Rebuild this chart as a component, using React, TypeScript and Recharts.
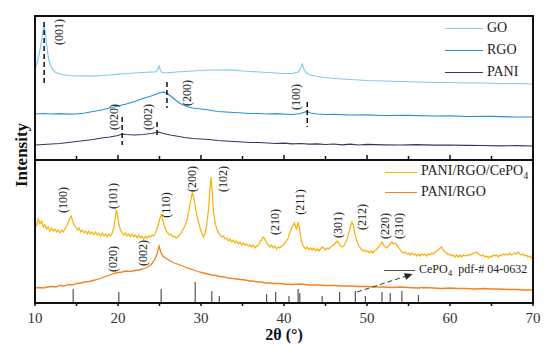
import { LineChart, Line, XAxis, YAxis, ReferenceLine, ReferenceDot } from 'recharts';

// 2θ scans, [angle, intensity (a.u.)]
const goScan: [number, number][] = [
  [10, 92], [10.3, 98], [10.6, 110], [10.85, 122], [11.0, 132], [11.1, 135], [11.25, 127], [11.4, 115],
  [11.6, 103], [11.8, 96], [12.1, 91], [12.4, 88], [12.8, 86.5], [13.3, 85.5], [14, 84.5], [15, 84],
  [16, 84.2], [17, 83.8], [18, 84.5], [19, 85], [20, 85.8], [21, 86.5], [22, 87], [23, 87.5], [24, 88],
  [24.6, 88.2], [24.8, 91], [24.95, 94], [25.1, 90], [25.3, 87.5], [26, 87.2], [27, 88], [28, 88.5],
  [29, 89], [30, 89.5], [31, 90], [32, 90], [33, 90.2], [34, 89.8], [35, 89], [36, 88.5], [37, 88],
  [38, 87.5], [39, 87], [40, 86.5], [41, 86.5], [41.7, 88], [42.0, 92], [42.2, 96], [42.4, 91],
  [42.7, 87], [43.2, 85], [44, 83.5], [45, 82.5], [46, 81.5], [47, 81], [48, 80.5], [49, 80], [50, 79.5],
  [52, 79], [54, 78.5], [56, 78], [58, 77.5], [60, 77.5], [62, 77], [64, 77], [66, 76.5], [68, 76.5], [70, 76],
];

const rgoScan: [number, number][] = [
  [10, 46], [11, 46.5], [12, 46], [13, 46.3], [14, 45.8], [15, 46], [16, 47], [17, 48.5], [18, 50],
  [19, 52], [20, 54], [21, 56], [22, 58.5], [23, 61.5], [24, 64], [24.5, 65.5], [25, 67], [25.5, 68],
  [26, 66], [26.5, 63], [27, 59.5], [27.5, 56.5], [28, 54.5], [28.5, 53], [29, 52], [30, 51], [31, 50],
  [32, 48.5], [33, 48], [34, 47.5], [35, 47], [36, 46.5], [37, 46.5], [38, 46], [39, 46.3], [40, 45.8],
  [41, 45.5], [42, 46.5], [42.5, 47.8], [42.8, 48.5], [43.2, 47], [44, 46], [45, 45.5], [46, 45.7],
  [48, 45], [50, 45.2], [52, 44.5], [55, 44.6], [58, 44], [60, 44.2], [62, 43.5], [65, 43.6], [68, 43], [70, 43],
];

const paniScan: [number, number][] = [
  [10, 15], [11, 15.5], [12, 16], [13, 16.5], [14, 17.5], [15, 18.5], [16, 19.5], [17, 20.5], [18, 22],
  [19, 23], [20, 24.5], [20.5, 26], [21, 25.5], [22, 25], [23, 25.5], [24, 26.5], [24.9, 28], [25.5, 26.5],
  [26.3, 25], [27, 24], [28, 22.5], [29, 21.5], [30, 21], [31, 20.5], [32, 19.5], [33, 19], [34, 18.5],
  [35, 18], [36, 17.5], [37, 17.5], [38, 17], [39, 16.5], [40, 16.8], [41, 16.2], [42, 16.5], [43, 15.8],
  [44, 16.2], [45, 15.5], [46, 16], [47, 15.2], [48, 15.8], [49, 15], [50, 15.6], [52, 15.2], [54, 15],
  [56, 15.3], [58, 14.8], [60, 15], [62, 14.6], [64, 14.5], [66, 14.2], [68, 14.3], [70, 14],
];

const compositeScan: [number, number][] = [
  [10.0, 80], [10.2, 78], [10.4, 84], [10.6, 79], [10.8, 82], [11.0, 76], [11.2, 78], [11.4, 74], [11.6, 76],
  [11.8, 72], [12.0, 75], [12.2, 72], [12.4, 74], [12.6, 71], [12.8, 73], [13.0, 70], [13.2, 73], [13.4, 71],
  [13.6, 74], [13.8, 77], [14.0, 80], [14.2, 85], [14.35, 87], [14.5, 83], [14.7, 78], [14.9, 76], [15.1, 73],
  [15.3, 75], [15.5, 71], [15.7, 73], [15.9, 70], [16.1, 72], [16.3, 69], [16.5, 72], [16.7, 69], [16.9, 71],
  [17.1, 68], [17.3, 71], [17.5, 68], [17.7, 70], [17.9, 67], [18.1, 70], [18.3, 67], [18.5, 69], [18.7, 66],
  [18.9, 69], [19.1, 67], [19.3, 70], [19.5, 75], [19.65, 84], [19.8, 93], [19.95, 88], [20.1, 79], [20.3, 73],
  [20.5, 70], [20.7, 68], [20.9, 70], [21.1, 67], [21.3, 69], [21.5, 66], [21.7, 69], [21.9, 66], [22.1, 68],
  [22.3, 65], [22.5, 68], [22.7, 65], [22.9, 67], [23.1, 64], [23.3, 67], [23.5, 65], [23.7, 67], [23.9, 66],
  [24.1, 68], [24.3, 67], [24.5, 70], [24.7, 74], [24.9, 80], [25.1, 86], [25.25, 88], [25.4, 83], [25.6, 77],
  [25.8, 72], [26.0, 70], [26.2, 68], [26.4, 69], [26.6, 66], [26.8, 67], [27.0, 65], [27.2, 66], [27.4, 68],
  [27.6, 70], [27.8, 73], [28.0, 76], [28.2, 80], [28.4, 86], [28.6, 95], [28.8, 104], [28.95, 110], [29.1, 106],
  [29.3, 97], [29.5, 88], [29.7, 81], [29.9, 75], [30.1, 70], [30.3, 66], [30.5, 70], [30.7, 79], [30.9, 93],
  [31.05, 110], [31.2, 126], [31.35, 112], [31.5, 92], [31.7, 80], [31.9, 74], [32.1, 70], [32.3, 68], [32.5, 66],
  [32.7, 67], [32.9, 64], [33.1, 65], [33.3, 62], [33.5, 64], [33.7, 61], [33.9, 63], [34.1, 60], [34.3, 62],
  [34.5, 59], [34.7, 61], [34.9, 58], [35.1, 60], [35.3, 58], [35.5, 59], [35.7, 57], [35.9, 58], [36.1, 56],
  [36.3, 58], [36.5, 55], [36.7, 57], [36.9, 58], [37.1, 61], [37.3, 63], [37.5, 66], [37.7, 64], [37.9, 60],
  [38.1, 58], [38.3, 56], [38.5, 58], [38.7, 55], [38.9, 57], [39.1, 54], [39.3, 56], [39.5, 55], [39.7, 57],
  [39.9, 58], [40.1, 60], [40.3, 62], [40.5, 65], [40.7, 70], [40.9, 75], [41.1, 78], [41.25, 80], [41.4, 76],
  [41.55, 74], [41.7, 81], [41.85, 75], [42.0, 66], [42.2, 59], [42.4, 56], [42.6, 54], [42.8, 56], [43.0, 53],
  [43.2, 55], [43.4, 53], [43.6, 55], [43.8, 52], [44.0, 54], [44.2, 52], [44.4, 54], [44.6, 56], [44.8, 55],
  [45.0, 53], [45.2, 55], [45.4, 54], [45.6, 56], [45.8, 57], [46.0, 58], [46.2, 60], [46.4, 62], [46.6, 60],
  [46.8, 57], [47.0, 56], [47.2, 57], [47.4, 60], [47.6, 64], [47.8, 70], [48.0, 76], [48.2, 81], [48.35, 78],
  [48.5, 71], [48.7, 64], [48.9, 59], [49.1, 56], [49.3, 54], [49.5, 52], [49.7, 53], [49.9, 51], [50.1, 52],
  [50.3, 50], [50.5, 52], [50.7, 50], [50.9, 52], [51.1, 53], [51.3, 55], [51.5, 57], [51.7, 60], [51.85, 61],
  [52.0, 58], [52.2, 56], [52.4, 55], [52.6, 57], [52.8, 59], [53.0, 61], [53.2, 59], [53.4, 60], [53.6, 58],
  [53.8, 56], [54.0, 53], [54.2, 51], [54.4, 50], [54.6, 51], [54.8, 49], [55.0, 50], [55.2, 48], [55.4, 50],
  [55.6, 48], [55.8, 49], [56.0, 47], [56.2, 49], [56.4, 47], [56.6, 49], [56.8, 48], [57.0, 49], [57.2, 47],
  [57.4, 49], [57.6, 48], [57.8, 50], [58.0, 49], [58.2, 51], [58.4, 52], [58.6, 53], [58.8, 55], [59.0, 56],
  [59.2, 53], [59.4, 51], [59.6, 50], [59.8, 48], [60.0, 49], [60.2, 47], [60.4, 48], [60.6, 46], [60.8, 48],
  [61.0, 46], [61.2, 48], [61.4, 46], [61.6, 48], [61.8, 47], [62.0, 48], [62.2, 47], [62.4, 49], [62.6, 48],
  [62.8, 50], [63.0, 50], [63.2, 51], [63.4, 49], [63.6, 48], [63.8, 47], [64.0, 48], [64.2, 46], [64.4, 47],
  [64.6, 45], [64.8, 47], [65.0, 46], [65.2, 48], [65.4, 47], [65.6, 48], [65.8, 46], [66.0, 48], [66.2, 47],
  [66.4, 49], [66.6, 48], [66.8, 49], [67.0, 48], [67.2, 50], [67.4, 48], [67.6, 49], [67.8, 50], [68.0, 49],
  [68.2, 51], [68.4, 49], [68.6, 48], [68.8, 49], [69.0, 47], [69.2, 48], [69.4, 46], [69.6, 47], [69.8, 45], [70.0, 47],
];

const paniRgoScan: [number, number][] = [
  [10, 15], [10.5, 15.5], [11, 15], [11.5, 16], [12, 16.5], [12.5, 16], [13, 17.5], [13.5, 17], [14, 18.5],
  [14.5, 18], [15, 19.5], [15.5, 20], [16, 21], [16.5, 21.5], [17, 22.5], [17.5, 23.5], [18, 25], [18.5, 26.5],
  [19, 28], [19.5, 29.5], [20, 30.5], [20.5, 31], [21, 32], [21.5, 31.5], [22, 32.5], [22.5, 33], [23, 34],
  [23.5, 35.5], [24, 38.5], [24.4, 43], [24.7, 49], [24.95, 57], [25.15, 51], [25.4, 47], [25.8, 44.5],
  [26.3, 42], [26.8, 40], [27.3, 38.5], [27.8, 37], [28.3, 35], [28.8, 34], [29.3, 32.5], [29.8, 31],
  [30.3, 30], [30.8, 29], [31.3, 28], [31.8, 27.5], [32.3, 26.5], [32.8, 26], [33.3, 25], [33.8, 24.5],
  [34.3, 24], [34.8, 23.5], [35.3, 23], [35.8, 22], [36.3, 22], [36.8, 21], [37.3, 21], [37.8, 20], [38.3, 20],
  [38.8, 19.5], [39.5, 19.5], [40, 19], [41, 18.5], [42, 19], [43, 18], [44, 18], [45, 17.5], [46, 17.5],
  [47, 17], [48, 17], [49, 16.5], [50, 16.5], [51, 16], [52, 16], [53, 15.5], [54, 16], [55, 15.5], [56, 15],
  [57, 15.5], [58, 15], [59, 14.5], [60, 15], [61, 14.5], [62, 14.5], [63, 14], [64, 14.5], [65, 14], [66, 14],
  [67, 13.5], [68, 13.5], [69, 13], [70, 13],
];

// CePO4 reference pattern (pdf-# 04-0632): [angle, relative height]
const cepo4Sticks: [number, number][] = [
  [14.6, 14], [20.1, 11], [25.2, 14], [29.3, 21], [31.3, 12], [32.2, 7], [37.9, 9], [39.0, 11], [40.6, 7],
  [41.7, 14], [41.9, 10], [44.6, 7], [46.7, 11], [48.6, 12], [49.8, 7], [51.8, 11], [52.8, 10], [54.2, 12], [56.2, 8],
];

// dashed markers: [angle, from, to]
const topMarkers: [number, number, number][] = [
  [11.1, 138, 75], [25.9, 78, 52], [42.8, 58, 33], [20.5, 43, 15], [24.7, 38, 22],
];

// (hkl) labels: [text, angle, intensity]
const topHkl: [string, number, number][] = [
  ['(001)', 12.9, 128], ['(200)', 28.3, 67], ['(100)', 41.4, 63], ['(020)', 19.5, 43], ['(002)', 23.6, 43],
];
const bottomHkl: [string, number, number][] = [
  ['(100)', 13.4, 103], ['(101)', 19.4, 107], ['(110)', 25.8, 98], ['(200)', 28.9, 124], ['(102)', 32.6, 124],
  ['(210)', 38.9, 81], ['(211)', 41.9, 101], ['(301)', 46.5, 78], ['(212)', 49.4, 86], ['(220)', 52.2, 77],
  ['(310)', 53.9, 77], ['(020)', 19.4, 44], ['(002)', 23.0, 50],
];

const xTicks = [10, 15, 20, 25, 30, 35, 40, 45, 50, 55, 60, 65, 70];

const toPts = (arr: [number, number][]) => arr.map(([t, v]) => ({ t, v }));

const FRAME = { stroke: '#111', strokeWidth: 2 };
const SERIF = '"Liberation Serif", "Times New Roman", serif';

const InnerTick = (p: any) => {
  const len = p.payload.value % 10 === 0 ? 5 : 4;
  return <line x1={p.x} x2={p.x} y1={p.y} y2={p.y - len} stroke="#111" strokeWidth={1.5} />;
};

const OuterTick = (p: any) => {
  const major = p.payload.value % 10 === 0;
  return (
    <g>
      <line x1={p.x} x2={p.x} y1={p.y} y2={p.y + 3} stroke="#111" strokeWidth={1.5} />
      {major && (
        <text x={p.x} y={p.y + 20} textAnchor="middle" fontSize={15} fill="#333" style={{ fontFamily: SERIF }}>
          {p.payload.value}
        </text>
      )}
    </g>
  );
};

const hklShape = (text: string) => (p: any) => (
  <text
    x={p.cx}
    y={p.cy}
    transform={`rotate(-90 ${p.cx} ${p.cy})`}
    textAnchor="middle"
    dominantBaseline="central"
    fontSize={12}
    fill="#222"
    style={{ fontFamily: SERIF }}
  >
    {text}
  </text>
);

const ArrowShape = (p: any) => {
  const { x1, y1, x2, y2 } = p;
  const a = Math.atan2(y2 - y1, x2 - x1);
  const L = 8;
  const W = 3.5;
  const bx = x2 - Math.cos(a) * L;
  const by = y2 - Math.sin(a) * L;
  const nx = -Math.sin(a) * W;
  const ny = Math.cos(a) * W;
  return (
    <g>
      <line x1={x1} y1={y1} x2={bx} y2={by} stroke="#333" strokeWidth={1} strokeDasharray="5 3" />
      <polygon points={`${x2},${y2} ${bx + nx},${by + ny} ${bx - nx},${by - ny}`} fill="#222" />
    </g>
  );
};

function LegendRow({ color, children, len, size }: { color: string; children: any; len: number; size: number }) {
  return (
    <div style={{ display: 'flex', alignItems: 'center', height: 20 }}>
      <div style={{ width: len, height: 0, borderTop: `1.5px solid ${color}`, marginRight: 4 }} />
      <span style={{ fontSize: size, color: '#222', whiteSpace: 'nowrap' }}>{children}</span>
    </div>
  );
}

// panel border drawn over the plot area
function PanelBox({ top, height }: { top: number; height: number }) {
  return (
    <div
      style={{
        position: 'absolute',
        left: 34,
        top,
        width: 500,
        height,
        border: '2px solid #111',
        boxSizing: 'border-box',
        pointerEvents: 'none',
      }}
    />
  );
}

export default function App() {
  return (
    <div style={{ position: 'absolute', left: 0, top: 0, width: 554, height: 351, background: '#fff', fontFamily: SERIF }}>
      <div style={{ position: 'absolute', left: 0, top: 0 }}>
        <LineChart width={554} height={161} margin={{ top: 16, right: 21, bottom: 0, left: 34 }}>
          <XAxis dataKey="t" type="number" domain={[10, 70]} ticks={xTicks} height={1} tickSize={0} tickMargin={0} tickLine={false} axisLine={FRAME} tick={InnerTick} />
          <YAxis type="number" domain={[0, 144]} width={1} tick={false} tickLine={false} axisLine={FRAME} />
          <Line data={toPts(goScan)} dataKey="v" stroke="#84c8ee" strokeWidth={1.2} dot={false} activeDot={false} isAnimationActive={false} />
          <Line data={toPts(rgoScan)} dataKey="v" stroke="#2b90cf" strokeWidth={1.2} dot={false} activeDot={false} isAnimationActive={false} />
          <Line data={toPts(paniScan)} dataKey="v" stroke="#2f3b5e" strokeWidth={1.2} dot={false} activeDot={false} isAnimationActive={false} />
          {topMarkers.map(([t, a, b], i) => (
            <ReferenceLine key={'m' + i} segment={[{ x: t, y: a }, { x: t, y: b }]} stroke="#111" strokeWidth={1.5} strokeDasharray="5 3" ifOverflow="visible" />
          ))}
          {topHkl.map(([s, t, v], i) => (
            <ReferenceDot key={'h' + i} x={t} y={v} r={1} ifOverflow="visible" shape={hklShape(s)} />
          ))}
        </LineChart>
      </div>
      <div style={{ position: 'absolute', left: 0, top: 160 }}>
        <LineChart width={554} height={191} margin={{ top: 0, right: 21, bottom: 0, left: 34 }}>
          <XAxis dataKey="t" type="number" domain={[10, 70]} ticks={xTicks} height={48} tickSize={0} tickMargin={0} tickLine={false} axisLine={FRAME} tick={OuterTick} />
          <YAxis type="number" domain={[0, 143]} width={1} tick={false} tickLine={false} axisLine={FRAME} />
          {cepo4Sticks.map(([t, h], i) => (
            <ReferenceLine key={'s' + i} segment={[{ x: t, y: 0 }, { x: t, y: h }]} stroke="#555" strokeWidth={1.2} />
          ))}
          <Line data={toPts(compositeScan)} dataKey="v" stroke="#fbaf0a" strokeWidth={1.2} dot={false} activeDot={false} isAnimationActive={false} />
          <Line data={toPts(paniRgoScan)} dataKey="v" stroke="#f5821f" strokeWidth={1.3} dot={false} activeDot={false} isAnimationActive={false} />
          {bottomHkl.map(([s, t, v], i) => (
            <ReferenceDot key={'b' + i} x={t} y={v} r={1} ifOverflow="visible" shape={hklShape(s)} />
          ))}
          <ReferenceLine segment={[{ x: 48.8, y: 11 }, { x: 55.5, y: 29 }]} ifOverflow="visible" shape={ArrowShape} />
        </LineChart>
      </div>

      <PanelBox top={15} height={146} />
      <PanelBox top={159} height={145} />

      <div style={{ position: 'absolute', left: 445, top: 18 }}>
        <div style={{ display: 'flex', flexDirection: 'column', gap: 2 }}>
          <LegendRow color="#84c8ee" len={38} size={14}>GO</LegendRow>
          <LegendRow color="#2b90cf" len={38} size={14}>RGO</LegendRow>
          <LegendRow color="#2f3b5e" len={38} size={14}>PANI</LegendRow>
        </div>
      </div>
      <div style={{ position: 'absolute', left: 385, top: 162 }}>
        <LegendRow color="#fbaf0a" len={32} size={14}>PANI/RGO/CePO<sub style={{ fontSize: 10 }}>4</sub></LegendRow>
        <LegendRow color="#f5821f" len={32} size={14}>PANI/RGO</LegendRow>
      </div>
      <div style={{ position: 'absolute', left: 384, top: 260 }}>
        <LegendRow color="#555" len={31} size={12}>CePO<sub style={{ fontSize: 9 }}>4</sub>&nbsp; pdf-# 04-0632</LegendRow>
      </div>

      <div style={{ position: 'absolute', left: 22, top: 155, transform: 'translate(-50%, -50%) rotate(-90deg)', fontSize: 17, fontWeight: 'bold', color: '#111', whiteSpace: 'nowrap' }}>
        Intensity
      </div>
      <div style={{ position: 'absolute', left: 284, top: 335, transform: 'translate(-50%, -50%)', fontSize: 16, fontWeight: 'bold', color: '#111', whiteSpace: 'nowrap' }}>
        2θ (°)
      </div>
    </div>
  );
}
